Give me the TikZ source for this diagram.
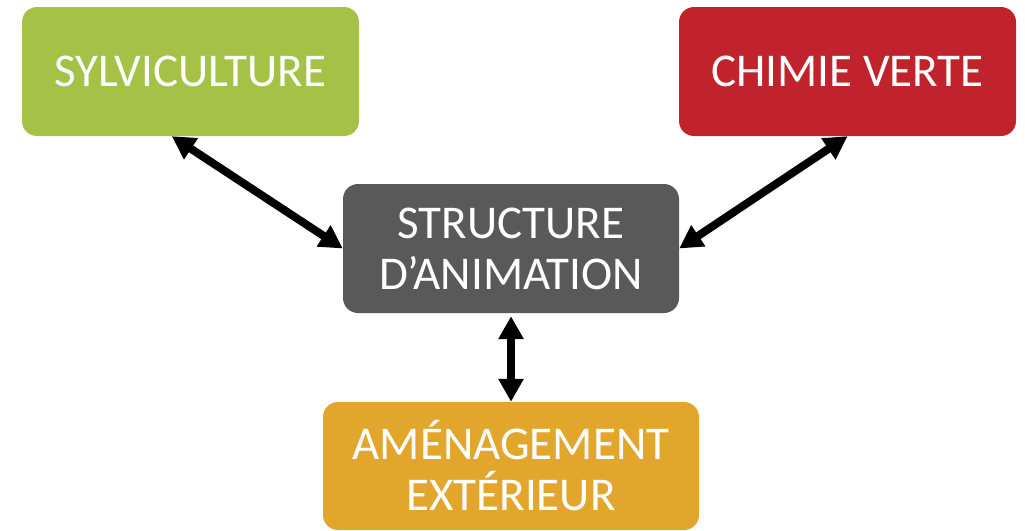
\documentclass[tikz,border=0pt]{standalone}
\usepackage{fontspec}
\setmainfont{Carlito}
\usetikzlibrary{arrows.meta,positioning,calc}
\definecolor{cgreen}{HTML}{A5C146}
\definecolor{cred}{HTML}{C0232C}
\definecolor{cgray}{HTML}{595959}
\definecolor{corange}{HTML}{E3A62D}
\tikzset{
  boxnode/.style={rounded corners=15pt, inner sep=0pt, text=white, align=center,
    font=\fontsize{47}{51}\selectfont},
  link/.style={line width=8pt, {Triangle[length=23pt,width=24pt]}-{Triangle[length=23pt,width=24pt]}}
}
\begin{document}
\begin{tikzpicture}[x=1pt,y=-1pt]
\useasboundingbox (0,0) rectangle (1025,530);
\node[boxnode, fill=cgreen, minimum width=337pt, minimum height=129pt] (syl) at (190.5,71.5) {SYLVICULTURE};
\node[boxnode, fill=cred, minimum width=337pt, minimum height=129pt] (chim) at (847.5,71.5) {CHIMIE VERTE};
\node[boxnode, fill=cgray, minimum width=336pt, minimum height=129pt] (struct) at (511,248.5) {STRUCTURE\\D’ANIMATION};
\node[boxnode, fill=corange, minimum width=376pt, minimum height=128pt] (amen) at (511,466) {AMÉNAGEMENT\\EXTÉRIEUR};
\draw[link] ([xshift=150pt]syl.south west) -- (struct.west);
\draw[link] (chim.south) -- (struct.east);
\draw[link] (struct.south) ++(0,3) coordinate (vs) (vs) -- (amen.north);
\end{tikzpicture}
\end{document}
